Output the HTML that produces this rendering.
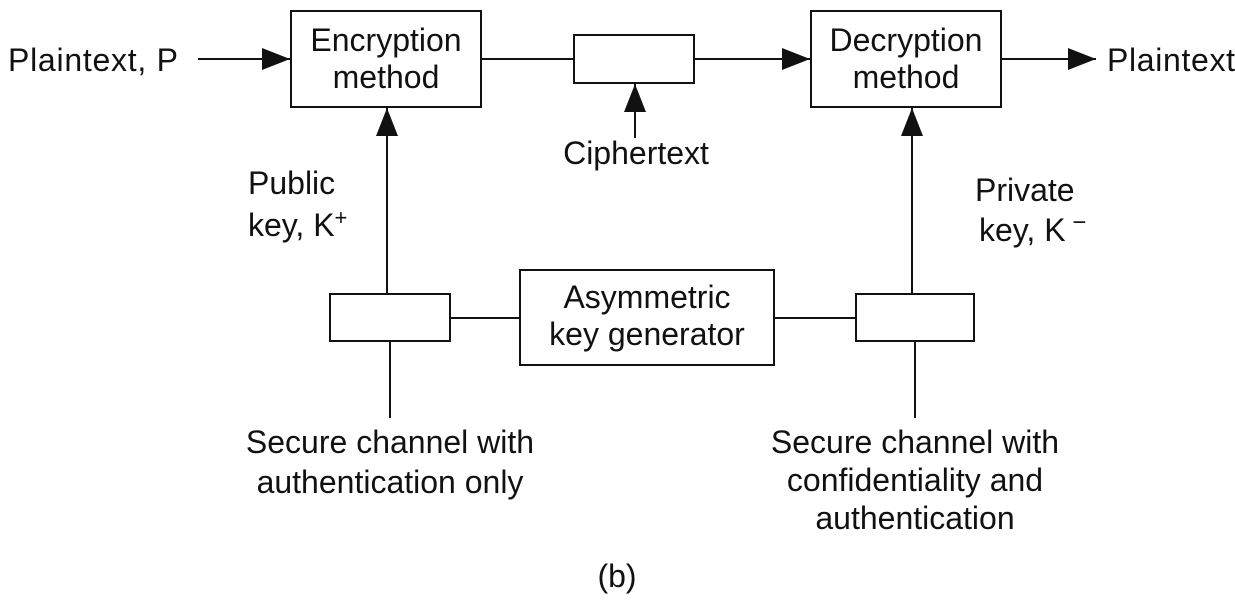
<!DOCTYPE html>
<html><head><style>body{margin:0;background:#fff}</style></head><body>
<svg width="1235" height="597" xmlns="http://www.w3.org/2000/svg" font-family="Liberation Sans, sans-serif" font-size="32" fill="#111">
<defs>
<marker id="b" viewBox="0 0 28 22" markerWidth="28" markerHeight="22" refX="28" refY="11" orient="auto" markerUnits="userSpaceOnUse"><path d="M0,0 L28,11 L0,22 z" fill="#111"/></marker></defs>
<g stroke="#111" stroke-width="2" fill="none">
<rect x="291" y="11" width="190" height="96"/>
<rect x="574" y="35" width="120" height="48"/>
<rect x="811" y="11" width="190" height="96"/>
<rect x="330" y="294" width="120" height="47"/>
<rect x="520" y="270" width="254" height="95"/>
<rect x="856" y="294" width="118" height="47"/>
<line x1="198" y1="59" x2="290" y2="59" marker-end="url(#b)"/>
<line x1="481" y1="59" x2="574" y2="59"/>
<line x1="694" y1="59" x2="810" y2="59" marker-end="url(#b)"/>
<line x1="1001" y1="59" x2="1096" y2="59" marker-end="url(#b)"/>
<line x1="635" y1="138" x2="635" y2="84" marker-end="url(#b)"/>
<line x1="387" y1="294" x2="387" y2="108" marker-end="url(#b)"/>
<line x1="912" y1="294" x2="912" y2="108" marker-end="url(#b)"/>
<line x1="390" y1="341" x2="390" y2="418"/>
<line x1="915" y1="341" x2="915" y2="418"/>
<line x1="450" y1="318" x2="520" y2="318"/>
<line x1="774" y1="318" x2="856" y2="318"/>
</g>
<text x="8" y="71" textLength="170">Plaintext, P</text>
<text x="1107" y="71" textLength="128">Plaintext</text>
<g text-anchor="middle">
<text x="386" y="51">Encryption</text><text x="386" y="88">method</text>
<text x="906" y="51">Decryption</text><text x="906" y="88">method</text>
<text x="636" y="164">Ciphertext</text>
<text x="647" y="308">Asymmetric</text><text x="647" y="345">key generator</text>
<text x="390" y="453">Secure channel with</text><text x="390" y="493">authentication only</text>
<text x="915" y="453">Secure channel with</text><text x="915" y="491">confidentiality and</text><text x="915" y="529">authentication</text>
<text x="617" y="587">(b)</text>
</g>
<text x="248" y="194">Public</text><text x="248" y="236">key, K<tspan font-size="22" dy="-11">+</tspan></text>
<text x="975" y="201">Private</text><text x="979" y="241">key, K<tspan font-size="24" dy="-11"> −</tspan></text>
</svg>
</body></html>
